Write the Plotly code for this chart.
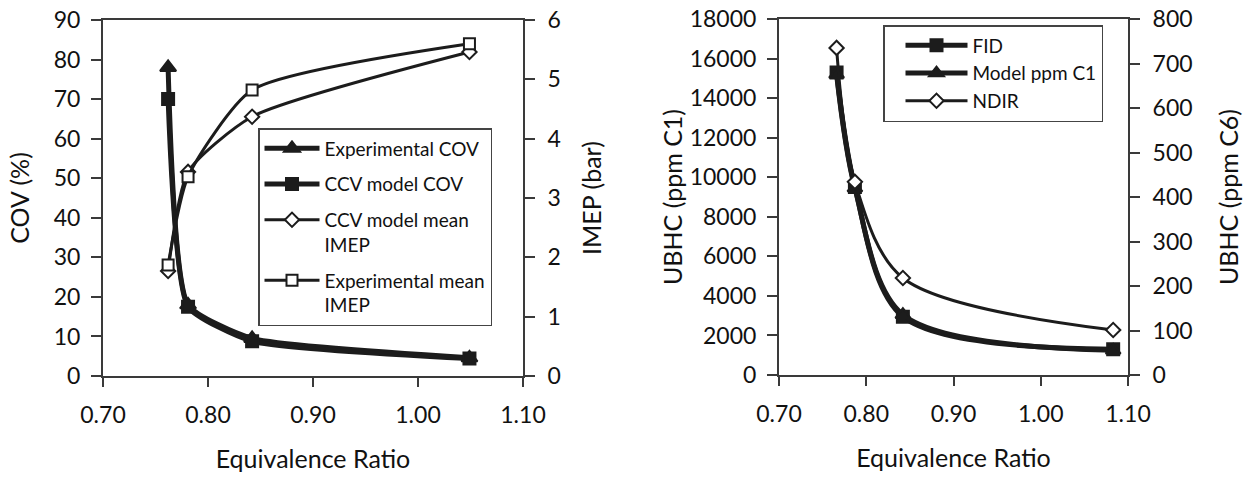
import plotly.graph_objects as go

# ---------------- data ----------------
phi_left = [0.762, 0.781, 0.842, 1.049]
exp_cov = [78.0, 18.0, 9.5, 4.6]
model_cov = [70.0, 17.5, 8.8, 4.4]
model_imep = [1.77, 3.44, 4.37, 5.46]
exp_imep = [1.87, 3.36, 4.82, 5.60]

phi_right = [0.766, 0.787, 0.842, 1.083]
fid_c1 = [15300, 9500, 2950, 1300]
model_c1 = [15200, 9450, 3050, 1250]
ndir_c6 = [735, 434, 218, 101]

left_y_ticks = [0, 10, 20, 30, 40, 50, 60, 70, 80, 90]
imep_ticks = [0, 1, 2, 3, 4, 5, 6]
right_y_ticks = [0, 2000, 4000, 6000, 8000, 10000, 12000, 14000, 16000, 18000]
c6_ticks = [0, 100, 200, 300, 400, 500, 600, 700, 800]
x_ticks = [0.70, 0.80, 0.90, 1.00, 1.10]

# ---------------- styling ----------------
W, H = 1249, 477
FONT = "Lato"
INK = "#1c1c1c"
AX = "#3a3a3a"
TICKF = dict(family=FONT, size=23, color="#111")
TITLEF = dict(family=FONT, size=25, color="#111")

L_X = [103 / W, 523 / W]
L_Y = [1 - 376 / H, 1 - 20 / H]
R_X = [779 / W, 1128 / W]
R_Y = [1 - 375 / H, 1 - 19 / H]

fig = go.Figure()

def add(x, y, name, symbol, size, lw, filled, xa, ya, legend, group, smooth):
    fig.add_trace(go.Scatter(
        x=x, y=y, name=name, mode="lines+markers",
        line=dict(color=INK, width=lw, shape="spline", smoothing=smooth),
        marker=dict(symbol=symbol, size=size,
                    color=INK if filled else "white",
                    line=dict(color=INK, width=2)),
        xaxis=xa, yaxis=ya, legend=legend, legendgroup=group,
    ))

# left chart
add(phi_left, exp_cov, "Experimental COV", "triangle-up", 14, 5, True, "x", "y", "legend", "a", 0.5)
add(phi_left, model_cov, "CCV model COV", "square", 12, 5, True, "x", "y", "legend", "b", 0.5)
add(phi_left, model_imep, "CCV model mean<br>IMEP", "diamond", 11, 3, False, "x", "y2", "legend", "c", 0.6)
add(phi_left, exp_imep, "Experimental mean<br>IMEP", "square", 11, 3, False, "x", "y2", "legend", "d", 0.6)

# right chart
add(phi_right, fid_c1, "FID", "square", 12, 5, True, "x2", "y4", "legend2", "e", 0.9)
add(phi_right, model_c1, "Model ppm C1", "triangle-up", 13, 5, True, "x2", "y4", "legend2", "f", 0.9)
add(phi_right, ndir_c6, "NDIR", "diamond", 11, 3, False, "x2", "y5", "legend2", "g", 0.9)

def xaxis(domain, anchor):
    return dict(domain=domain, anchor=anchor, range=[0.70, 1.10],
                tickvals=x_ticks, ticktext=[f"{v:.2f}" for v in x_ticks],
                ticks="outside", ticklen=9, tickwidth=2, tickcolor=AX,
                showline=True, linewidth=2, linecolor=AX, mirror=True,
                showgrid=False, zeroline=False, tickfont=TICKF,
                ticklabelstandoff=8,
                title=dict(text="Equivalence Ratio", font=TITLEF, standoff=24))

def yleft(domain, anchor, rng, vals, title, standoff):
    return dict(domain=domain, anchor=anchor, range=rng, tickvals=vals,
                ticktext=[str(v) for v in vals],
                ticks="outside", ticklen=10, tickwidth=2, tickcolor=AX,
                showline=True, linewidth=2, linecolor=AX,
                showgrid=False, zeroline=False, tickfont=TICKF,
                ticklabelstandoff=6,
                title=dict(text=title, font=TITLEF, standoff=standoff))

def yright(base, anchor, rng, vals, title, standoff):
    return dict(overlaying=base, anchor=anchor, side="right", range=rng, tickvals=vals,
                ticktext=[str(v) for v in vals],
                ticks="outside", ticklen=10, tickwidth=2, tickcolor=AX,
                showline=True, linewidth=2, linecolor=AX,
                showgrid=False, zeroline=False, tickfont=TICKF,
                ticklabelstandoff=8,
                title=dict(text=title, font=TITLEF, standoff=standoff))

def yinside(base, anchor, rng, vals):
    return dict(overlaying=base, anchor=anchor, side="right", range=rng, tickvals=vals,
                ticks="inside", ticklen=10, tickwidth=2, tickcolor=AX,
                showline=False, showgrid=False, zeroline=False, showticklabels=False)

fig.update_layout(
    width=W, height=H,
    margin=dict(l=0, r=0, t=0, b=0, autoexpand=False),
    paper_bgcolor="white", plot_bgcolor="white",
    font=dict(family=FONT, color="#111"),
    showlegend=True,
    xaxis=xaxis(L_X, "y"),
    yaxis=yleft(L_Y, "x", [0, 90], left_y_ticks, "COV (%)", 17),
    yaxis2=yright("y", "x", [0, 6], imep_ticks, "IMEP (bar)", 24),
    yaxis3=yinside("y", "x", [0, 6], imep_ticks),
    xaxis2=xaxis(R_X, "y4"),
    yaxis4=yleft(R_Y, "x2", [0, 18000], right_y_ticks, "UBHC (ppm C1)", 0),
    yaxis5=yright("y4", "x2", [0, 800], c6_ticks, "UBHC (ppm C6)", 29),
    yaxis6=yinside("y4", "x2", [0, 800], c6_ticks),
    legend=dict(x=258 / W, y=1 - 128 / H, xanchor="left", yanchor="top",
                bgcolor="white", bordercolor="#444", borderwidth=1.5,
                font=dict(family=FONT, size=19, color="#111"),
                itemwidth=55, valign="top", traceorder="grouped",
                tracegroupgap=8),
    legend2=dict(x=883 / W, y=1 - 25 / H, xanchor="left", yanchor="top",
                 bgcolor="white", bordercolor="#444", borderwidth=1.5,
                 font=dict(family=FONT, size=19, color="#111"),
                 itemwidth=62, indentation=16, entrywidth=280,
                 traceorder="normal", tracegroupgap=0),
)

fig.write_html("out.html")
